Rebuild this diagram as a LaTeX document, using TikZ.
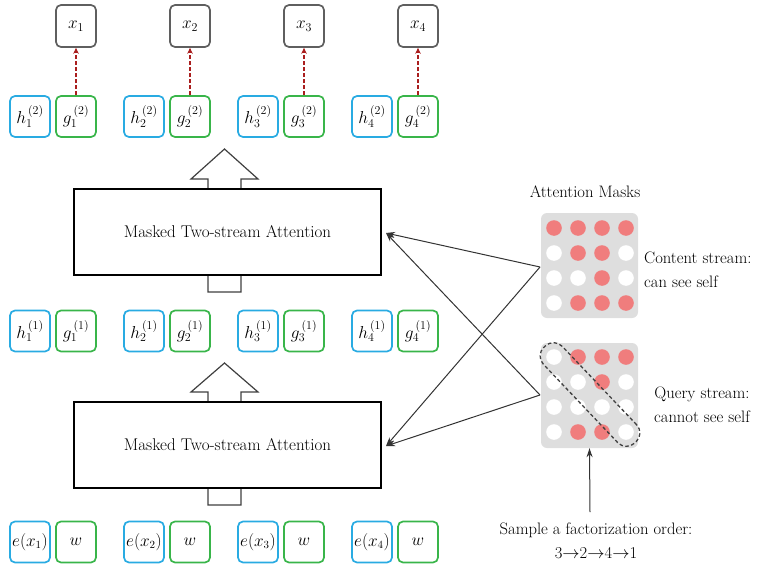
\documentclass[tikz,border=0pt]{standalone}
\usetikzlibrary{arrows.meta}
\definecolor{hblue}{RGB}{41,171,226}
\definecolor{ggreen}{RGB}{57,181,74}
\definecolor{xgray}{RGB}{95,95,95}
\definecolor{dred}{RGB}{170,30,30}
\definecolor{dotred}{RGB}{240,125,125}
\definecolor{maskbg}{RGB}{222,222,222}
\tikzset{
  tok/.style={draw, line width=1.7pt, rounded corners=5pt, minimum width=40pt, minimum height=41pt, inner sep=0pt, font=\fontsize{18}{20}\selectfont},
  hb/.style={tok, draw=hblue},
  gb/.style={tok, draw=ggreen},
  xb/.style={tok, draw=xgray, minimum height=42pt},
  att/.style={draw, line width=1.3pt, fill=white, minimum width=307pt, minimum height=86pt, inner sep=0pt, font=\fontsize{17}{20}\selectfont},
  fat/.style={draw=black!75, line width=1.2pt, fill=white},
  pred/.style={draw=dred, line width=2pt, dash pattern=on 4pt off 2pt, -{Stealth[length=6pt,width=5.5pt]}},
  conn/.style={draw=black!80, line width=1pt, -{Stealth[length=9pt,width=6pt]}},
  mask/.style={fill=maskbg, rounded corners=6pt, minimum width=97pt, minimum height=105pt, inner sep=0pt},
  lbl/.style={font=\fontsize{16.6}{24}\selectfont, inner sep=0pt},
}
\begin{document}
\begin{tikzpicture}[x=1pt,y=-1pt]
\useasboundingbox (0,0) rectangle (761,565);
% fat arrows (behind boxes)
\draw[fat] (208,292)--(208,179)--(191,179)--(224.5,149)--(258,179)--(241,179)--(241,292)--cycle;
\draw[fat] (208,505)--(208,392)--(191,392)--(224.5,363)--(258,392)--(241,392)--(241,505)--cycle;
\node[att] (up) at (227.5,232) {Masked Two-stream Attention};
\node[att] (lo) at (227.5,445) {Masked Two-stream Attention};
% token rows
\foreach \i in {1,2,3,4}{
  \pgfmathsetmacro{\hx}{30+114*(\i-1)}
  \pgfmathsetmacro{\gx}{\hx+46}
  \node[xb] (x\i) at (\gx,26) {$x_{\i}$};
  \node[hb] (h2\i) at (\hx,116.5) {$h_{\i}^{\,(2)}$};
  \node[gb] (g2\i) at (\gx,116.5) {$g_{\i}^{\,(2)}$};
  \node[hb] (h1\i) at (\hx,331) {$h_{\i}^{\,(1)}$};
  \node[gb] (g1\i) at (\gx,331) {$g_{\i}^{\,(1)}$};
  \node[hb, font=\fontsize{16}{18}\selectfont] (e\i) at (\hx,542) {$e(x_{\i})$};
  \node[gb] (w\i) at (\gx,542) {$w$};
}
\foreach \i in {1,2,3,4}{
  \draw[pred] (g2\i.north) -- (x\i.south);
}
% masks
\node[mask] (cm) at (589.5,265.5) {};
\node[mask] (qm) at (589.5,395.5) {};
\def\cols{{554,578,602,626}}
\foreach \r/\y/\pat in {0/228/{1,1,1,1},1/253/{0,1,1,0},2/278/{0,0,1,0},3/303/{0,1,1,1}}{
  \foreach \c [count=\k from 0] in \pat {
    \pgfmathsetmacro{\cx}{\cols[\k]}
    \ifnum\c=1 \fill[dotred] (\cx,\y) circle (7.8pt);\else \fill[white] (\cx,\y) circle (7.8pt);\fi
  }
}
\foreach \r/\y/\pat in {0/357/{0,1,1,1},1/382/{0,0,1,0},2/407/{0,0,0,0},3/432/{0,1,1,0}}{
  \foreach \c [count=\k from 0] in \pat {
    \pgfmathsetmacro{\cx}{\cols[\k]}
    \ifnum\c=1 \fill[dotred] (\cx,\y) circle (7.8pt);\else \fill[white] (\cx,\y) circle (7.8pt);\fi
  }
}
\node[draw=black!75, line width=1.3pt, dash pattern=on 3.5pt off 2.5pt, rounded corners=12pt, minimum width=132pt, minimum height=26pt, rotate=-46.5] (diag) at (590,394.5) {};
% labels
\node[lbl] (amt) at (585,192) {Attention Masks};
\node[lbl, anchor=west, align=left] (ctext) at (644,270) {Content stream:\\can see self};
\node[lbl, align=center] (qtext) at (702,405) {Query stream:\\cannot see self};
\node[lbl, align=center] (stext) at (596,541) {Sample a factorization order:\\3$\rightarrow$2$\rightarrow$4$\rightarrow$1};
% connectors
\coordinate (cp) at (540,267);
\coordinate (qp) at (540,395);
\coordinate (ut) at (386,233);
\coordinate (lt) at (386,446);
\coordinate (sp) at (590,512);
\draw[conn] (cp) -- (ut);
\draw[conn] (cp) -- (lt);
\draw[conn] (qp) -- (ut);
\draw[conn] (qp) -- (lt);
\draw[conn] (sp) -- (qm.south);
\end{tikzpicture}
\end{document}
